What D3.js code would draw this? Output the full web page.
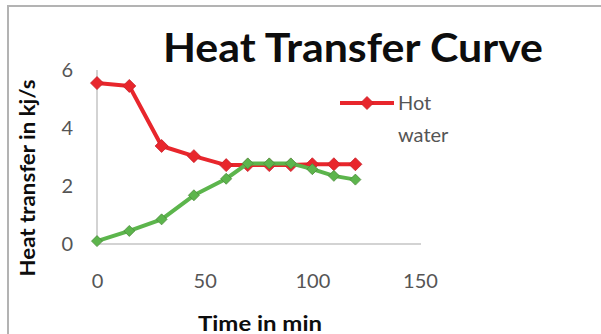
<!DOCTYPE html>
<html>
<head>
<meta charset="utf-8">
<script src="https://cdn.jsdelivr.net/npm/d3@7"></script>
<style>
  html, body { margin: 0; padding: 0; background: #fff; }
  svg { display: block; }
  text { font-family: Lato, "Open Sans", sans-serif; }
</style>
</head>
<body>
<svg id="chart" width="601" height="334"></svg>
<script>
// Time points (min)
const times = [0, 15, 30, 45, 60, 70, 80, 90, 100, 110, 120];
// Heat transfer (kJ/s)
const hotWater  = [5.55, 5.45, 3.38, 3.03, 2.72, 2.72, 2.72, 2.72, 2.75, 2.75, 2.75];
const coldWater = [0.1, 0.45, 0.85, 1.68, 2.25, 2.78, 2.78, 2.78, 2.58, 2.35, 2.22];
const xTicks = [0, 50, 100, 150];
const yTicks = [0, 2, 4, 6];
const legendLabel = ["Hot", "water"];

const svg = d3.select("#chart");

// chart frame
svg.append("path")
  .attr("d", "M8,334 V6 H601")
  .attr("fill", "none")
  .attr("stroke", "#b3b3b3")
  .attr("stroke-width", 2);

const x = d3.scaleLinear().domain([0, 150]).range([97, 420]);
const y = d3.scaleLinear().domain([0, 6]).range([244, 70]);

// axes
const xAxis = svg.append("g").attr("transform", `translate(0,${y(0)})`)
  .call(d3.axisBottom(x).tickValues(xTicks).tickFormat(d3.format("d")).tickSize(0).tickPadding(30));
const yAxis = svg.append("g").attr("transform", `translate(${x(0)},0)`)
  .call(d3.axisLeft(y).tickValues(yTicks).tickFormat(d3.format("d")).tickSize(0).tickPadding(24));

[xAxis, yAxis].forEach(g => {
  g.select(".domain").attr("stroke", "#c4c4c4").attr("stroke-width", 1.5);
  g.selectAll("text")
    .attr("font-family", "Lato, 'Open Sans', sans-serif")
    .attr("font-size", 20)
    .attr("fill", "#555");
});
xAxis.select(".domain").attr("d", `M${x(0)},0H${x(150) + 1}`);
yAxis.select(".domain").attr("d", `M0,${y(6)}V${y(0)}`);

// title
svg.append("text")
  .attr("x", 353).attr("y", 62)
  .attr("text-anchor", "middle")
  .attr("font-size", 40).attr("font-weight", "bold")
  .attr("fill", "#0d0d0d")
  .attr("textLength", 380).attr("lengthAdjust", "spacingAndGlyphs")
  .text("Heat Transfer Curve");

// axis titles
svg.append("text")
  .attr("x", 260).attr("y", 331)
  .attr("text-anchor", "middle")
  .attr("font-size", 21).attr("font-weight", "bold")
  .attr("fill", "#0d0d0d")
  .attr("textLength", 124).attr("lengthAdjust", "spacingAndGlyphs")
  .text("Time in min");

svg.append("text")
  .attr("transform", "translate(35,178) rotate(-90)")
  .attr("text-anchor", "middle")
  .attr("font-size", 20).attr("font-weight", "bold")
  .attr("fill", "#0d0d0d")
  .attr("textLength", 197).attr("lengthAdjust", "spacingAndGlyphs")
  .text("Heat transfer in kj/s");

// series
const series = [
  { values: hotWater,  color: "#e8262c", edge: "#c8202a", size: 13 },
  { values: coldWater, color: "#5cb54c", edge: "#4d8c3c", size: 11 }
];

const line = d3.line().x(d => x(d[0])).y(d => y(d[1]));
const diamond = s => {
  const h = s / 2;
  return `M0,${-h}L${h},0L0,${h}L${-h},0Z`;
};

series.forEach(s => {
  const pts = times.map((t, i) => [t, s.values[i]]);
  svg.append("path")
    .datum(pts)
    .attr("d", line)
    .attr("fill", "none")
    .attr("stroke", s.color)
    .attr("stroke-width", 4)
    .attr("stroke-linejoin", "round");
  svg.append("g").selectAll("path")
    .data(pts).join("path")
    .attr("transform", d => `translate(${x(d[0])},${y(d[1])})`)
    .attr("d", diamond(s.size))
    .attr("fill", s.color)
    .attr("stroke", s.edge)
    .attr("stroke-width", 0.8);
});

// legend
const lg = svg.append("g");
lg.append("line")
  .attr("x1", 340).attr("x2", 394).attr("y1", 103).attr("y2", 103)
  .attr("stroke", "#e8262c").attr("stroke-width", 4);
lg.append("path")
  .attr("transform", "translate(367,103)")
  .attr("d", diamond(13))
  .attr("fill", "#e8262c").attr("stroke", "#c8202a").attr("stroke-width", 0.8);
lg.selectAll("text.lbl")
  .data(legendLabel).join("text")
  .attr("class", "lbl")
  .attr("x", 398)
  .attr("y", (d, i) => 110 + i * 32)
  .attr("font-size", 20)
  .attr("fill", "#555")
  .text(d => d);
</script>
</body>
</html>
